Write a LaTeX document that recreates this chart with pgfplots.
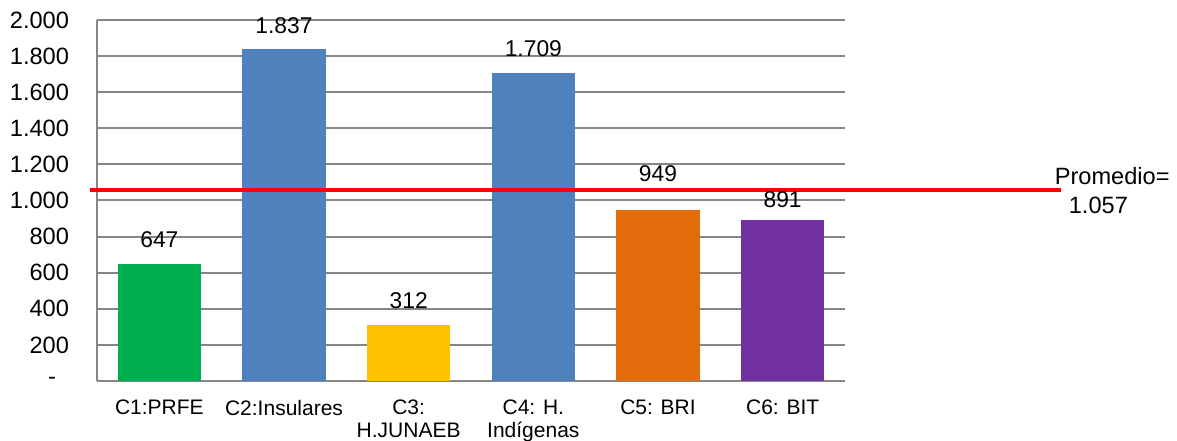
\documentclass[border=0pt]{standalone}
\usepackage{pgfplots}
\pgfplotsset{compat=1.18}
\usepackage{fontspec}
\setmainfont{Liberation Sans}
\definecolor{cgreen}{RGB}{0,176,80}
\definecolor{cblue}{RGB}{79,129,189}
\definecolor{cyellow}{RGB}{255,192,0}
\definecolor{corange}{RGB}{228,108,10}
\definecolor{cpurple}{RGB}{112,48,160}
\definecolor{cgrid}{RGB}{134,134,134}
\begin{document}
\begin{tikzpicture}
\begin{axis}[
    scale only axis, width=374pt, height=180.5pt,
    xmin=-0.5, xmax=5.5, ymin=0, ymax=2000,
    axis lines*=left,
    axis line style={draw=cgrid, line width=1pt, -},
    ymajorgrids, grid style={draw=cgrid, line width=1pt},
    major tick length=0pt,
    ytick={0,200,...,2000},
    yticklabels={-\kern6.5pt,200,400,600,800,1.000,1.200,1.400,1.600,1.800,2.000},
    yticklabel style={xshift=-10.5pt, font=\fontsize{11.8}{13}\selectfont},
    xtick={0,...,5},
    xticklabels={C1:PRFE, C2:Insulares, {C3:\\H.JUNAEB}, {C4: H.\\Indígenas}, C5: BRI, C6: BIT},
    xticklabel style={align=center, yshift=-6pt, font=\fontsize{10.5}{11.5}\selectfont},
    /pgf/number format/.cd, 1000 sep={.}, assume math mode=true, /pgfplots/.cd,
    every node near coord/.append style={font=\fontsize{11.4}{13}\selectfont, yshift=4.5pt},
    clip=false,
]
\addplot[ybar, bar width=0.67, bar shift=0pt, fill=cgreen, draw=none, nodes near coords] coordinates {(0,647)};
\addplot[ybar, bar width=0.67, bar shift=0pt, fill=cblue, draw=none, nodes near coords] coordinates {(1,1837)};
\addplot[ybar, bar width=0.67, bar shift=0pt, fill=cyellow, draw=none, nodes near coords] coordinates {(2,312)};
\addplot[ybar, bar width=0.67, bar shift=0pt, fill=cblue, draw=none, nodes near coords] coordinates {(3,1709)};
\addplot[ybar, bar width=0.67, bar shift=0pt, fill=corange, draw=none, nodes near coords,
    every node near coord/.append style={yshift=6pt}] coordinates {(4,949)};
\addplot[ybar, bar width=0.67, bar shift=0pt, fill=cpurple, draw=none, nodes near coords,
    every node near coord/.append style={yshift=-2pt}] coordinates {(5,891)};
\addplot[red, line width=2pt, mark=none] coordinates {(-0.556,1057) (7.23,1057)};
\node[anchor=west, align=left, font=\fontsize{11.8}{14.5}\selectfont, inner sep=0pt]
    at (axis cs:7.18,1055) {Promedio=\\\hspace{7pt}1.057};
\coordinate (bl) at (rel axis cs:-0.1297,-0.1662);
\coordinate (tr) at (rel axis cs:1.4439,1.0554);
\end{axis}
\pgfresetboundingbox
\path (bl) rectangle (tr);
\end{tikzpicture}
\end{document}
